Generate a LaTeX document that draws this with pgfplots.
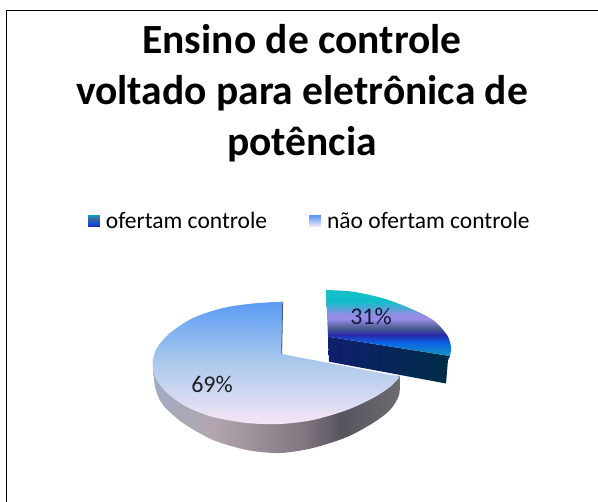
\documentclass[border=0pt]{standalone}
\usepackage{fontspec}
\setmainfont{Carlito}
\usepackage{pgfplots}
\pgfplotsset{compat=1.18}
\definecolor{a1}{RGB}{245,230,245}\definecolor{a2}{RGB}{172,202,236}\definecolor{a3}{RGB}{90,155,245}
\definecolor{b1}{RGB}{160,172,192}\definecolor{b2}{RGB}{178,165,175}\definecolor{b3}{RGB}{130,120,130}\definecolor{b4}{RGB}{88,84,94}\definecolor{b5}{RGB}{108,108,112}
\definecolor{c1}{RGB}{20,150,190}\definecolor{c2}{RGB}{10,100,230}\definecolor{c3}{RGB}{40,40,170}\definecolor{c4}{RGB}{70,90,140}\definecolor{c5}{RGB}{150,140,230}\definecolor{c6}{RGB}{20,190,200}
\definecolor{d1}{RGB}{15,30,110}\definecolor{d2}{RGB}{0,45,70}
\pgfdeclareverticalshading{bigtopS}{100bp}{color(0bp)=(a1);color(25bp)=(a1);color(50bp)=(a2);color(75bp)=(a3);color(100bp)=(a3)}
\pgfdeclarehorizontalshading{bigwall}{100bp}{color(0bp)=(b1);color(25bp)=(b1);color(37bp)=(b2);color(55bp)=(b3);color(63bp)=(b4);color(75bp)=(b5);color(100bp)=(b5)}
\pgfdeclareverticalshading{smalltop}{100bp}{color(0bp)=(c1);color(25bp)=(c1);color(35bp)=(c2);color(41bp)=(c3);color(46bp)=(c4);color(53bp)=(c5);color(56bp)=(c5);color(66bp)=(c6);color(75bp)=(c6);color(100bp)=(c6)}
\pgfdeclarehorizontalshading{smallwall}{100bp}{color(0bp)=(d1);color(25bp)=(d1);color(75bp)=(d2);color(100bp)=(d2)}
\pgfdeclareverticalshading{legA}{100bp}{color(0bp)=(c3);color(25bp)=(c3);color(45bp)=(c2);color(55bp)=(c4);color(75bp)=(c1);color(100bp)=(c1)}
\pgfdeclareverticalshading{legB}{100bp}{color(0bp)=(a1);color(25bp)=(a1);color(75bp)=(a3);color(100bp)=(a3)}
\begin{document}
\begin{tikzpicture}
\useasboundingbox (0,0) rectangle (598pt,502pt);
\begin{axis}[at={(0,0)},anchor=south west,x=1pt,y=1pt,xmin=0,xmax=598,ymin=0,ymax=502,y dir=reverse,hide axis,clip=false,scale only axis,
  legend columns=2,
  legend style={at={(axis cs:88,221)},anchor=west,draw=none,fill=none,font=\fontsize{23.5}{26}\selectfont,inner sep=0pt,outer sep=0pt,/tikz/every even column/.append style={column sep=40pt},/tikz/every odd column/.append style={column sep=4pt}},
]
% big slice wall
\addplot [draw=none,shade,shading=bigwall,smooth,tension=0.5,forget plot] coordinates {
(153,362) (155,387) (163,405) (183,423) (213,440) (247,450) (280,453) (313,448) (347,437) (373,423) (390,410) (399,395) (400,376)} -- (axis cs:280,370) -- cycle;
% big slice top (69%)
\addplot [draw=none,shade,shading=bigtopS,smooth,tension=0.5,forget plot] coordinates {
(282.5,301.7) (253,303.5) (223,308) (193,318) (170,333) (157,348) (152.7,361.7) (155,377) (167,393) (187,407) (213,417) (247,423) (280,424) (313,420) (347,410) (373,398) (390,387) (400,376.7)} -- (axis cs:281.7,354) -- cycle;
\addplot [draw={rgb,255:red,70;green,85;blue,110},line width=0.8pt,forget plot] coordinates {(282.7,302) (281.7,354)};
% small slice wall
\addplot [draw=none,shade,shading=smallwall,forget plot] coordinates {(328,336.7) (450,356) (448,360) (446,383.5) (329,361.7)} -- cycle;
% small slice top (31%)
\addplot [draw=none,shade,shading=smalltop,smooth,tension=0.5,forget plot] coordinates {(326,290) (353,291.7) (383,298.3) (410,308.3) (433,320) (447,335) (451,347) (450,356)} -- (axis cs:328,336.7) -- cycle;
% legend swatches
\addlegendimage{legend image code/.code={\path[draw=none,shade,shading=legA] (0cm,-0.19cm) rectangle (0.42cm,0.19cm);}}
\addlegendentry{ofertam controle}
\addlegendimage{legend image code/.code={\path[draw=none,shade,shading=legB] (0cm,-0.19cm) rectangle (0.42cm,0.19cm);}}
\addlegendentry{não ofertam controle}
% frame
\addplot [black,line width=1.4pt,forget plot] coordinates {(6.5,502) (6.5,10.5) (598,10.5)};
\node[font=\fontsize{41.5}{51}\selectfont\bfseries,align=center,anchor=north] at (axis cs:302,21) {Ensino de controle\\voltado para eletrônica de\\potência};
\node[font=\fontsize{24}{26}\selectfont,text={rgb,255:red,20;green,25;blue,60}] at (axis cs:371,316) {31\%};
\node[font=\fontsize{24}{26}\selectfont,text={rgb,255:red,30;green,30;blue,40}] at (axis cs:212,384) {69\%};
\end{axis}
\end{tikzpicture}
\end{document}
